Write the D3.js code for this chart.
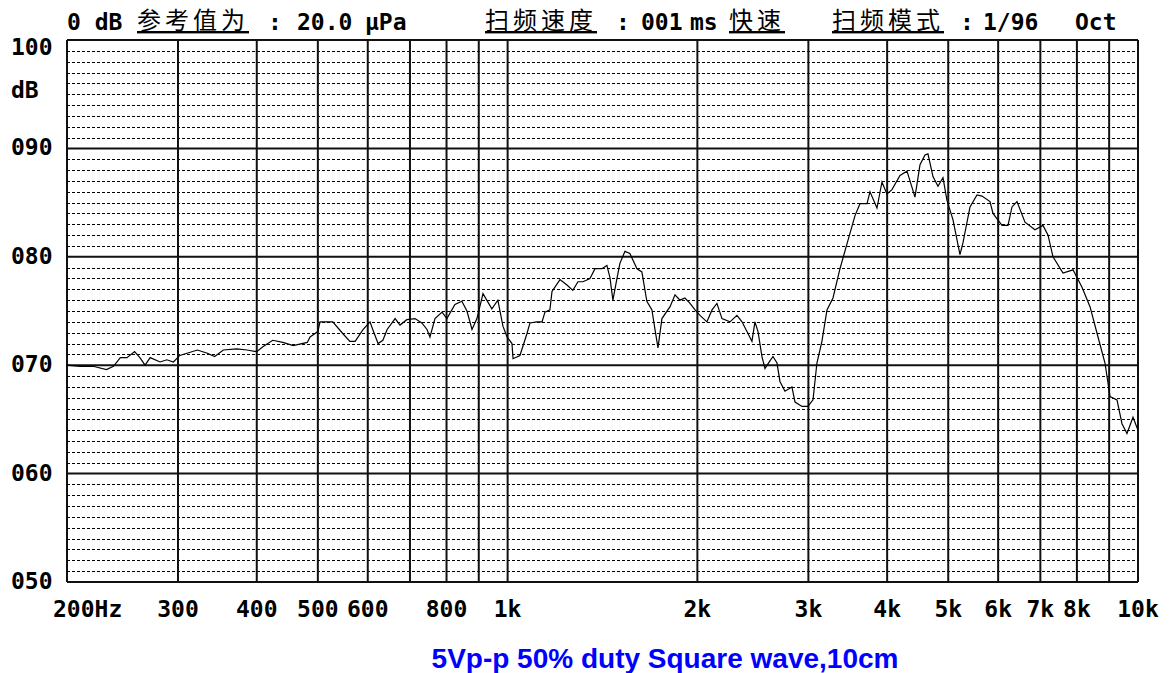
<!DOCTYPE html>
<html>
<head>
<meta charset="utf-8">
<script src="https://cdn.jsdelivr.net/npm/d3@7"></script>
<style>
  body { margin: 0; background: #fff; }
  .mono { font-family: "DejaVu Sans Mono", monospace; font-weight: bold; font-size: 23px; fill: #000; }
  .cjk { font-family: "Noto Sans CJK SC", sans-serif; font-size: 24px; letter-spacing: 4px; fill: #000; text-decoration: underline; }
</style>
</head>
<body>
<div id="chart"></div>
<script>
// response curve (Hz, dB)
const freqs = [
  200, 210, 220, 231, 237, 243, 249, 256, 261, 266,
  271, 281, 288, 295, 302, 322, 334, 343, 354, 372,
  386, 400, 409, 424, 440, 457, 481, 486, 500, 504,
  528, 548, 562, 573, 590, 605, 611, 623, 634, 644,
  663, 675, 692, 713, 731, 745, 753, 767, 787, 801,
  825, 846, 862, 878, 894, 914, 944, 965, 983, 998,
  1016, 1020, 1046, 1073, 1085, 1113, 1134, 1146, 1167, 1176,
  1211, 1242, 1269, 1293, 1317, 1351, 1376, 1411, 1437, 1453,
  1469, 1491, 1507, 1535, 1563, 1604, 1633, 1663, 1694, 1713,
  1732, 1757, 1810, 1843, 1877, 1911, 1947, 1983, 2019, 2071,
  2110, 2148, 2188, 2253, 2311, 2354, 2397, 2441, 2468, 2496,
  2532, 2560, 2607, 2636, 2675, 2704, 2754, 2825, 2857, 2931,
  2995, 3051, 3095, 3152, 3211, 3282, 3367, 3454, 3557, 3622,
  3716, 3757, 3854, 3925, 3997, 4071, 4192, 4301, 4380, 4428,
  4510, 4593, 4643, 4729, 4816, 4905, 4977, 5088, 5219, 5277,
  5414, 5554, 5656, 5824, 5888, 6085, 6220, 6311, 6427, 6618,
  6864, 7068, 7199, 7331, 7604, 7887, 8150, 8392, 8641, 8864,
  9028, 9261, 9432, 9606, 9819, 10000
];
const levels = [
  70.0, 69.9, 69.9, 69.6, 69.9, 70.7, 70.7, 71.25, 70.7, 70.0,
  70.7, 70.3, 70.5, 70.3, 70.9, 71.4, 71.1, 70.8, 71.4, 71.5,
  71.4, 71.25, 71.7, 72.3, 72.1, 71.8, 72.1, 72.6, 73.1, 74.0,
  74.0, 72.9, 72.2, 72.2, 73.3, 74.0, 73.3, 72.0, 72.3, 73.3,
  74.3, 73.7, 74.2, 74.3, 73.9, 73.3, 72.6, 74.3, 74.9, 74.3,
  75.6, 75.9, 75.0, 73.3, 74.3, 76.6, 75.2, 76.0, 73.6, 72.6,
  72.0, 70.6, 70.9, 72.9, 73.9, 74.0, 74.0, 74.9, 75.1, 76.8,
  77.9, 77.4, 76.9, 77.7, 77.7, 78.0, 78.9, 78.9, 79.2, 78.1,
  76.0, 78.0, 79.4, 80.5, 80.3, 78.9, 78.6, 75.9, 75.1, 73.3,
  71.6, 74.3, 75.4, 76.5, 76.0, 76.2, 75.7, 75.1, 74.6, 74.0,
  75.1, 75.7, 74.3, 74.0, 74.6, 74.0, 73.1, 72.2, 74.0, 73.1,
  70.8, 69.7, 70.4, 70.8, 70.2, 68.5, 67.6, 68.0, 66.6, 66.2,
  66.2, 66.8, 70.2, 72.2, 75.1, 76.2, 78.9, 81.2, 83.8, 84.9,
  84.9, 86.0, 84.5, 86.9, 85.8, 86.2, 87.5, 87.9, 86.4, 85.5,
  88.5, 89.4, 89.5, 87.4, 86.5, 87.3, 85.2, 83.4, 80.2, 81.3,
  84.6, 85.7, 85.6, 85.1, 84.0, 82.9, 82.9, 84.6, 85.1, 83.2,
  82.5, 82.9, 82.0, 80.0, 78.5, 78.8, 77.2, 75.4, 72.6, 70.2,
  67.1, 66.8, 64.6, 63.7, 65.2, 64.0
];

const xTicks = [200, 300, 400, 500, 600, 700, 800, 900, 1000, 2000, 3000, 4000, 5000, 6000, 7000, 8000, 9000, 10000];
const xTickLabels = ["200Hz", "300", "400", "500", "600", "", "800", "", "1k", "2k", "3k", "4k", "5k", "6k", "7k", "8k", "", "10k"];
const yTicks = [50, 60, 70, 80, 90, 100];
const yTickLabels = ["050", "060", "070", "080", "090", "100"];

const width = 1171, height = 673;
const margin = { top: 40, right: 33, bottom: 91, left: 67 };

const svg = d3.select("#chart").append("svg")
    .attr("width", width)
    .attr("height", height);

const x = d3.scaleLog()
    .domain([200, 10000])
    .range([margin.left, width - margin.right]);
const y = d3.scaleLinear()
    .domain([50, 100])
    .range([height - margin.bottom, margin.top]);

const grid = svg.append("g");

// 1 dB dashed lines
grid.selectAll(".minor")
    .data(d3.range(51, 100).filter(v => v % 10 !== 0))
    .enter().append("line")
    .attr("x1", x.range()[0]).attr("x2", x.range()[1])
    .attr("y1", d => Math.round(y(d)) + 0.5).attr("y2", d => Math.round(y(d)) + 0.5)
    .attr("stroke", "#000")
    .attr("stroke-width", 1)
    .attr("stroke-dasharray", "3,2");

// frequency lines
grid.selectAll(".vline")
    .data(xTicks)
    .enter().append("line")
    .attr("x1", d => x(d)).attr("x2", d => x(d))
    .attr("y1", y.range()[1]).attr("y2", y.range()[0])
    .attr("stroke", "#111")
    .attr("stroke-width", 2);

// 10 dB lines
grid.selectAll(".hline")
    .data(yTicks)
    .enter().append("line")
    .attr("x1", x.range()[0]).attr("x2", x.range()[1])
    .attr("y1", d => y(d)).attr("y2", d => y(d))
    .attr("stroke", "#111")
    .attr("stroke-width", 2);

// y labels
svg.selectAll(".ylab")
    .data(yTicks)
    .enter().append("text")
    .attr("class", "mono")
    .attr("x", 11)
    .attr("y", d => d === 100 ? y(d) + 15 : y(d) + 7)
    .text((d, i) => yTickLabels[i]);

svg.append("text").attr("class", "mono")
    .attr("x", 11).attr("y", 98)
    .text("dB");

// x labels
svg.selectAll(".xlab")
    .data(xTicks)
    .enter().append("text")
    .attr("class", "mono")
    .attr("x", d => d === 200 ? x(d) - 14 : x(d))
    .attr("y", 617)
    .attr("text-anchor", d => d === 200 ? "start" : "middle")
    .text((d, i) => xTickLabels[i]);

// response curve
const points = freqs.map((f, i) => [f, levels[i]]);
svg.append("path")
    .datum(points)
    .attr("fill", "none")
    .attr("stroke", "#000")
    .attr("stroke-width", 1.2)
    .attr("d", d3.line().x(d => x(d[0])).y(d => y(d[1])));

// header line
const header = svg.append("g");
const mono = (txt, px) => header.append("text").attr("class", "mono").attr("x", px).attr("y", 30).text(txt);
const cjk = (txt, px) => header.append("text").attr("class", "cjk").attr("x", px).attr("y", 29).text(txt);
mono("0 dB", 67);
cjk("参考值为", 137);
mono(":", 268);
mono("20.0", 297);
mono("μPa", 365);
cjk("扫频速度", 485);
mono(":", 616);
mono("001", 641);
mono("ms", 690);
cjk("快速", 729);
cjk("扫频模式", 832);
mono(":", 960);
mono("1/96", 983);
mono("Oct", 1075);

// caption
svg.append("text")
    .attr("x", 665)
    .attr("y", 668)
    .attr("text-anchor", "middle")
    .style("font-family", "'Liberation Sans', Arial, sans-serif")
    .style("font-weight", "bold")
    .style("font-size", "28px")
    .style("fill", "#0000ff")
    .text("5Vp-p 50% duty Square wave,10cm");
</script>
</body>
</html>
